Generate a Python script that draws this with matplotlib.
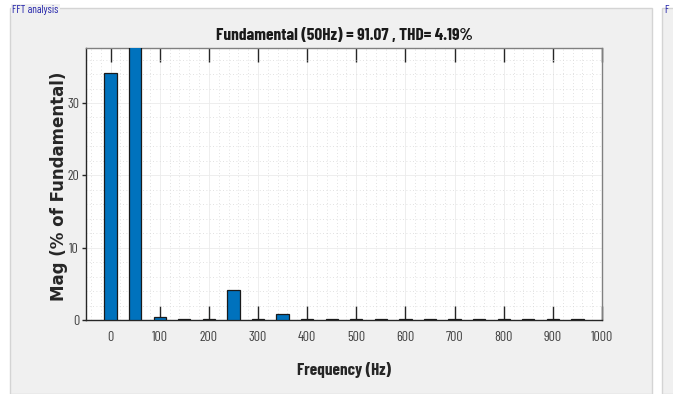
import matplotlib
matplotlib.use("Agg")
import matplotlib.pyplot as plt
from matplotlib import font_manager
from matplotlib.patches import Rectangle
from matplotlib.ticker import MultipleLocator

freqs = [0, 50, 100, 150, 200, 250, 300, 350, 400, 450, 500, 550, 600, 650, 700, 750, 800, 850, 900, 950]
mags = [34.2, 100.0, 0.35, 0.15, 0.15, 4.15, 0.15, 0.8, 0.12, 0.08, 0.08, 0.15, 0.1, 0.1, 0.1, 0.08, 0.08, 0.1, 0.08, 0.1]
xticks = [0, 100, 200, 300, 400, 500, 600, 700, 800, 900, 1000]
yticks = [0, 10, 20, 30]
title = "Fundamental (50Hz) = 91.07 , THD= 4.19%"

names = {f.name for f in font_manager.fontManager.ttflist}
narrow = "DejaVu Sans"
for cand in ["Liberation Sans Narrow", "Arial Narrow", "Barlow Condensed", "Archivo Narrow",
             "Roboto Condensed", "Asap Condensed"]:
    if cand in names:
        narrow = cand
        break
NF = [narrow, "DejaVu Sans"]

W, H = 673, 394
fig = plt.figure(figsize=(W/100, H/100), dpi=100)
fig.patch.set_facecolor("white")

fig.add_artist(Rectangle((10/W, 0), (652-10)/W, (H-8)/H, transform=fig.transFigure,
                         facecolor="#f0f0f0", edgecolor="#d4d4d4", lw=1.0, zorder=-10))
fig.add_artist(Rectangle((662/W, 0), 20/W, (H-8)/H, transform=fig.transFigure,
                         facecolor="#f0f0f0", edgecolor="#d4d4d4", lw=1.0, zorder=-10))
fig.text(12/W, 1-10/H, "FFT analysis", color="#2222aa", fontsize=8, family=NF,
         va="center", ha="left", bbox=dict(facecolor="#f0f0f0", edgecolor="none", pad=1))
fig.text(664/W, 1-10/H, "F", color="#2222aa", fontsize=8, family=NF,
         va="center", ha="left")

ax = fig.add_axes([86/W, 1-320/H, (602-86)/W, (320-48)/H])
ax.set_facecolor("white")
ax.bar(freqs, mags, width=25, color="#0072BD", edgecolor="#1a1a1a", linewidth=0.9, zorder=3)
ax.set_xlim(-50, 1000)
ax.set_ylim(0, 37.6)
ax.set_xticks(xticks)
ax.set_yticks(yticks)
ax.xaxis.set_minor_locator(MultipleLocator(20))
ax.yaxis.set_minor_locator(MultipleLocator(2))
ax.grid(which="major", color="#ebebeb", lw=0.6, zorder=0)
ax.grid(which="minor", color="#d8d8d8", lw=0.6, ls=(0, (1, 3)), zorder=0)
ax.tick_params(axis="x", which="major", direction="in", length=10, width=1, color="#262626",
               top=True, labelsize=10, labelcolor="#404040", pad=8)
ax.tick_params(axis="y", which="major", direction="out", length=3, width=1, color="#262626",
               right=False, labelsize=10, labelcolor="#404040", pad=2)
ax.tick_params(which="minor", length=0)
for lab in ax.get_xticklabels() + ax.get_yticklabels():
    lab.set_family(NF)
for s in ax.spines.values():
    s.set_color("#262626")
    s.set_linewidth(1.0)
ax.spines["top"].set_color("#808080")
ax.spines["right"].set_color("#808080")

ax.set_title(title, fontsize=12.5, fontweight="bold", family=NF, color="#1a1a1a", pad=6)
ax.set_xlabel("Frequency (Hz)", fontsize=12.3, fontweight="bold", family=NF,
              color="#262626", labelpad=13)
fig.text(59/W, 1-186/H, "Mag (% of Fundamental)", rotation=90, fontsize=12,
         fontweight="bold", family="DejaVu Sans", color="#262626", ha="center", va="center")

fig.savefig("out.png", dpi=100, facecolor=fig.get_facecolor())
